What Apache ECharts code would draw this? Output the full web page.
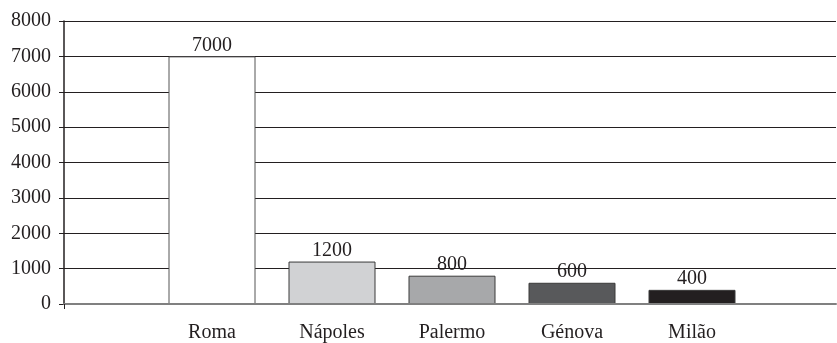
<!DOCTYPE html>
<html>
<head>
<meta charset="utf-8">
<script src="https://cdn.jsdelivr.net/npm/echarts@6/dist/echarts.min.js"></script>
<style>
  html, body { margin: 0; padding: 0; background: #fff; }
  #chart { width: 837px; height: 343px; }
</style>
</head>
<body>
<div id="chart"></div>
<script>
// Cities and their values
const cities = ['Roma', 'Nápoles', 'Palermo', 'Génova', 'Milão'];
const values = [7000, 1200, 800, 600, 400];
const barColors = ['#ffffff', '#d1d2d4', '#a7a8aa', '#58595b', '#231f20'];
const yMin = 0;
const yMax = 8000;
const yStep = 1000;

const font = '"Liberation Serif", "DejaVu Serif", serif';
const ink = '#231f20';
const fontSize = 20;

const chart = echarts.init(document.getElementById('chart'));

chart.setOption({
  animation: false,
  backgroundColor: '#ffffff',
  grid: [
    // frame: y axis, gridlines, baseline
    { left: 64, right: 1, top: 21, bottom: 39 },
    // bars
    { left: 152, right: 85, top: 21, bottom: 39 }
  ],
  xAxis: [
    {
      gridIndex: 0,
      type: 'category',
      data: ['', ''],
      boundaryGap: false,
      axisLine: { show: true, lineStyle: { color: '#808080', width: 2 } },
      axisTick: {
        show: true,
        inside: false,
        length: 5,
        interval: function (i) { return i === 0; },
        lineStyle: { color: ink, width: 1 }
      },
      axisLabel: { show: false },
      splitLine: { show: false },
      z: 3
    },
    {
      gridIndex: 1,
      type: 'category',
      data: cities,
      axisLine: { show: false },
      axisTick: { show: false },
      axisLabel: {
        show: true,
        margin: 19,
        color: ink,
        fontFamily: font,
        fontSize: fontSize
      }
    }
  ],
  yAxis: [
    {
      gridIndex: 0,
      type: 'value',
      min: yMin,
      max: yMax,
      interval: yStep,
      axisLine: { show: true, lineStyle: { color: ink, width: 1.5 } },
      axisTick: { show: true, length: 5, lineStyle: { color: ink, width: 1 } },
      axisLabel: {
        margin: 13,
        color: ink,
        fontFamily: font,
        fontSize: fontSize,
        formatter: function (v) { return String(v); }
      },
      splitLine: { show: true, lineStyle: { color: ink, width: 1.2 } },
      z: 1
    },
    {
      gridIndex: 1,
      type: 'value',
      min: yMin,
      max: yMax,
      interval: yStep,
      show: false,
      splitLine: { show: false }
    }
  ],
  series: [
    {
      type: 'bar',
      xAxisIndex: 1,
      yAxisIndex: 1,
      barWidth: 87,
      z: 2,
      data: values.map(function (v, i) {
        return {
          value: v,
          itemStyle: {
            color: barColors[i],
            borderColor: i === 0 ? '#555555' : '#3a3a3a',
            borderWidth: 1
          }
        };
      }),
      label: {
        show: true,
        position: 'top',
        distance: 1,
        color: ink,
        fontFamily: font,
        fontSize: fontSize
      }
    }
  ]
});
</script>
</body>
</html>
